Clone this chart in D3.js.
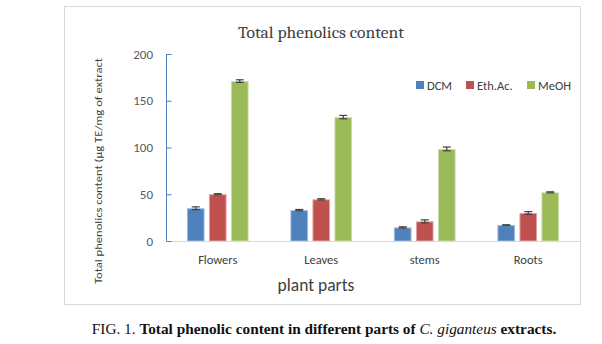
<!DOCTYPE html>
<html>
<head>
<meta charset="utf-8">
<script src="https://cdn.jsdelivr.net/npm/d3@7"></script>
<style>
  body { margin: 0; background: #fff; }
  svg { display: block; }
</style>
</head>
<body>
<svg id="chart" width="602" height="344"></svg>
<script>
// Plant parts and solvent series
const categories = ["Flowers", "Leaves", "stems", "Roots"];
const seriesNames = ["DCM", "Eth.Ac.", "MeOH"];
const dcmValues  = [35, 33, 14.5, 17];
const ethValues  = [50, 44.5, 21, 30];
const meohValues = [171, 132.5, 98.5, 52];
const dcmErr  = [1.5, 0.7, 0.7, 0.3];
const ethErr  = [0.6, 0.7, 1.6, 1.4];
const meohErr = [1.4, 1.8, 2.0, 0.6];
const yTicks = [0, 50, 100, 150, 200];
const colors = ["#4F81BD", "#C0504D", "#9BBB59"];
const edgeColors = ["#9DB8DA", "#E0A3A1", "#C9DCA8"];

const values = [dcmValues, ethValues, meohValues];
const errors = [dcmErr, ethErr, meohErr];

const svg = d3.select("#chart");
const sans = "Calibri, Carlito, 'Liberation Sans', 'DejaVu Sans', sans-serif";
const serif = "Cambria, 'Liberation Serif', 'DejaVu Serif', serif";

// Chart frame
svg.append("rect")
  .attr("x", 64.5).attr("y", 6.5).attr("width", 516).attr("height", 298)
  .attr("fill", "#fff").attr("stroke", "#D9D9D9").attr("stroke-width", 1);

const plot = { left: 166, right: 580, top: 54, bottom: 241 };

const x = d3.scaleBand().domain(categories).range([plot.left, plot.right]).paddingInner(0).paddingOuter(0);
const xs = d3.scaleBand().domain(seriesNames).range([0, x.bandwidth()]).paddingInner(0.2).paddingOuter(0.95);
const y = d3.scaleLinear().domain([0, 200]).range([plot.bottom, plot.top]);

// Title
svg.append("text")
  .attr("x", 321).attr("y", 38)
  .attr("text-anchor", "middle")
  .attr("font-family", serif).attr("font-size", 17.5)
  .attr("fill", "#404040")
  .text("Total phenolics content");

// Bars
const groups = svg.append("g").selectAll("g")
  .data(categories)
  .join("g")
  .attr("transform", d => `translate(${x(d)},0)`);

seriesNames.forEach((s, si) => {
  groups.append("rect")
    .attr("x", xs(s) + 0.5)
    .attr("y", (d, i) => y(values[si][i]) + 0.5)
    .attr("width", xs.bandwidth() - 1)
    .attr("height", (d, i) => y(0) - y(values[si][i]) - 0.5)
    .attr("fill", colors[si])
    .attr("stroke", edgeColors[si])
    .attr("stroke-width", 1);

  // Error bars
  const cx = xs(s) + xs.bandwidth() / 2;
  groups.each(function(d, i) {
    const g = d3.select(this);
    const v = values[si][i], e = errors[si][i];
    const eg = g.append("g").attr("stroke", "#404040").attr("stroke-width", 1.2);
    eg.append("line").attr("x1", cx).attr("x2", cx).attr("y1", y(v + e)).attr("y2", y(v - e));
    eg.append("line").attr("x1", cx - 4).attr("x2", cx + 4).attr("y1", y(v + e)).attr("y2", y(v + e));
    eg.append("line").attr("x1", cx - 4).attr("x2", cx + 4).attr("y1", y(v - e)).attr("y2", y(v - e));
  });
});

// X axis baseline
svg.append("line")
  .attr("x1", plot.left).attr("x2", plot.right)
  .attr("y1", plot.bottom + 0.5).attr("y2", plot.bottom + 0.5)
  .attr("stroke", "#D9D9D9").attr("stroke-width", 1.2);

// Y axis with inward ticks
const yAxis = d3.axisRight(y).tickValues(yTicks).tickSize(5).tickFormat("");
const yg = svg.append("g").attr("transform", `translate(${plot.left + 0.5},0)`).call(yAxis);
yg.selectAll(".tick line").attr("stroke", "#4F81BD");
yg.select(".domain").attr("stroke", "#4F81BD").attr("d", `M0,${plot.top}V${plot.bottom}`);

svg.append("g").selectAll("text")
  .data(yTicks)
  .join("text")
  .attr("x", 153).attr("y", d => y(d) + 4.5)
  .attr("text-anchor", "end")
  .attr("font-family", sans).attr("font-size", 13)
  .attr("fill", "#595959")
  .text(d => d);

// Category labels
svg.append("g").selectAll("text")
  .data(categories)
  .join("text")
  .attr("x", d => x(d) + x.bandwidth() / 2)
  .attr("y", 264)
  .attr("text-anchor", "middle")
  .attr("font-family", sans).attr("font-size", 12.5)
  .attr("fill", "#404040")
  .text(d => d);

// Axis titles
svg.append("text")
  .attr("x", 316).attr("y", 291)
  .attr("text-anchor", "middle")
  .attr("font-family", sans).attr("font-size", 17.5)
  .attr("fill", "#404040")
  .text("plant parts");

svg.append("text")
  .attr("transform", "translate(102,171) rotate(-90)")
  .attr("text-anchor", "middle")
  .attr("font-family", sans).attr("font-size", 11)
  .attr("textLength", 226).attr("lengthAdjust", "spacingAndGlyphs")
  .attr("fill", "#404040")
  .text("Total phenolics content (µg TE/mg of extract");

// Legend
const legendX = [416, 466, 527];
const legend = svg.append("g").selectAll("g")
  .data(seriesNames)
  .join("g")
  .attr("transform", (d, i) => `translate(${legendX[i]},81)`);
legend.append("rect").attr("width", 8).attr("height", 8).attr("fill", (d, i) => colors[i]);
legend.append("text")
  .attr("x", 11).attr("y", 8.5)
  .attr("font-family", sans).attr("font-size", 12.5)
  .attr("fill", "#404040")
  .text(d => d);

// Figure caption
const cap = svg.append("text")
  .attr("x", 324).attr("y", 334)
  .attr("text-anchor", "middle")
  .attr("font-family", "'Liberation Serif', 'Times New Roman', serif")
  .attr("font-size", 15.3).attr("font-weight", "bold")
  .attr("fill", "#111");
cap.append("tspan").attr("font-weight", "normal").text("FIG. 1. ");
cap.append("tspan").text("Total phenolic content in different parts of ");
cap.append("tspan").attr("font-style", "italic").attr("font-weight", "normal").text("C. giganteus");
cap.append("tspan").text(" extracts.");
</script>
</body>
</html>
